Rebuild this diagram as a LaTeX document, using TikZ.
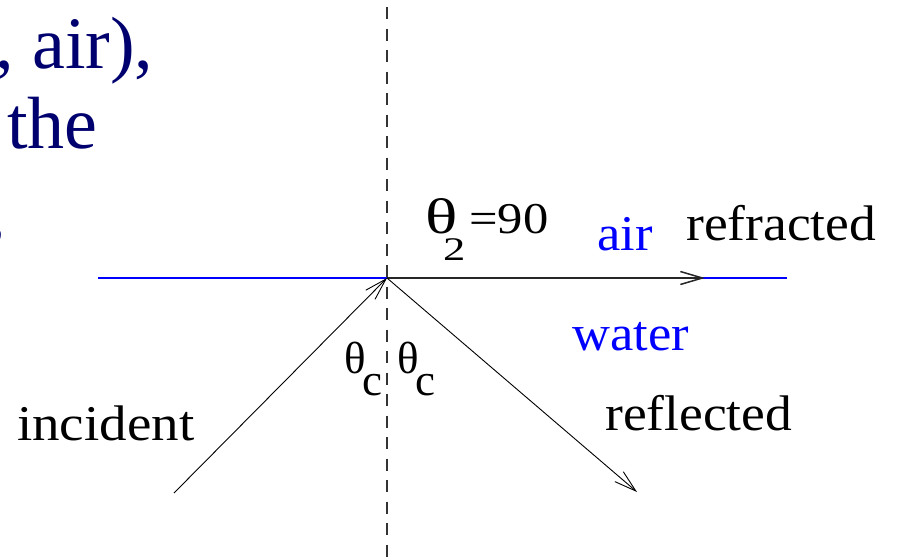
\documentclass[tikz,border=0pt]{standalone}
\usepackage{fontspec}
\setmainfont{Liberation Serif}
\usetikzlibrary{arrows.meta}
\definecolor{navy}{RGB}{0,0,110}
\definecolor{pureblue}{RGB}{0,0,255}
\begin{document}
\begin{tikzpicture}[x=1pt,y=-1pt,
  lbl/.style={inner sep=0pt, anchor=base west, font=\fontsize{50}{50}\selectfont},
  bluelbl/.style={lbl, text=pureblue},
  big/.style={inner sep=0pt, anchor=base west, font=\fontsize{74}{80}\selectfont, text=navy},
  sym/.style={inner sep=0pt, anchor=base west, font=\fontsize{45}{45}\selectfont},
  tip/.style={-{Straight Barb[length=22pt,width=13pt]}},
  ray/.style={line width=0.9pt, tip},
  normalln/.style={line width=1.5pt, black!80, dash pattern=on 12pt off 9.5pt},
  surface/.style={line width=1.4pt, pureblue},
  refr/.style={line width=1.5pt, black!85, tip}
]
\useasboundingbox (0,0) rectangle (898,560);
\clip (0,0) rectangle (898,560);

% clipped slide text
\node[big] (topnote) at (480,-16) {(e.g. water)};
\node[big] (l1) at (-5,68) {, air),};
\node[big] (l2) at (7,148) {the};
\node[big] (l3) at (-12.5,236) {,};

% geometry
\coordinate (top) at (387,-14.5);
\coordinate (bot) at (387,560);
\coordinate (O) at (387,278);
\coordinate (W) at (98,278);
\coordinate (E) at (787,278);
\coordinate (R) at (705,278);
\coordinate (inc) at (174,493);
\coordinate (refl) at (637,492);

\draw[normalln] (top) -- (bot);
\draw[surface] (W) -- (E);
\draw[refr] (O) -- (R);
\draw[ray] (inc) -- (O);
\draw[ray] (O) -- (refl);

% labels
\node[lbl] (incident) at (17,440) {\scalebox{1.1}[1]{incident}};
\node[lbl] (refracted) at (686,240) {\scalebox{1.07}[1]{refracted}};
\node[lbl] (reflected) at (605,430) {\scalebox{1.07}[1]{reflected}};
\node[bluelbl] (water) at (572,350) {\scalebox{1.05}[1]{water}};
\node[bluelbl] (air) at (597,250) {\scalebox{1.05}[1]{air}};

\node[inner sep=0pt, anchor=base west, font=\fontsize{50}{50}\selectfont] (th2) at (425,233) {\scalebox{1.35}[1]{θ}};
\node[inner sep=0pt, anchor=base west, font=\fontsize{33}{33}\selectfont] (two) at (443,260) {\scalebox{1.35}[1]{2}};
\node[inner sep=0pt, anchor=base west, font=\fontsize{44}{44}\selectfont] (ninety) at (469,233) {\scalebox{1.15}[1]{=90}};

\node[sym] (thc1) at (344,373) {θ};
\node[sym] (c1) at (362,395) {c};
\node[sym] (thc2) at (397,373) {θ};
\node[sym] (c2) at (415,395) {c};
\end{tikzpicture}
\end{document}
